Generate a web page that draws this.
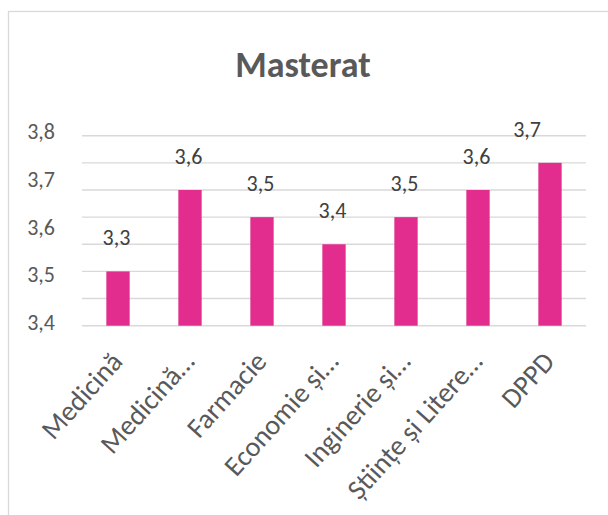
<!DOCTYPE html>
<html>
<head>
<meta charset="utf-8">
<script src="https://cdn.jsdelivr.net/npm/d3@7"></script>
<style>
  html, body { margin: 0; padding: 0; background: #ffffff; }
  svg { display: block; }
</style>
</head>
<body>
<div id="chart"></div>
<script>
// DATA
const categories = [
  "Medicină",
  "Medicină…",
  "Farmacie",
  "Economie și…",
  "Inginerie și…",
  "Științe și Litere…",
  "DPPD"
];
const values = [3.3, 3.6, 3.5, 3.4, 3.5, 3.6, 3.7];
const yTickLabels = ["3,4", "3,5", "3,6", "3,7", "3,8"];
const yDomain = [3.1, 3.8];
const title = "Masterat";

const W = 608;
const H = 515;
const margin = { top: 135.7, right: 22, bottom: 189.3, left: 82 };
const fontFamily = "Calibri, Carlito, 'Open Sans', 'Noto Sans', sans-serif";
const barColor = "#e22d8f";
const gridColor = "#d9d9d9";
const textColor = "#595959";

const svg = d3
  .select("#chart")
  .append("svg")
  .attr("width", W)
  .attr("height", H)
  .attr("xmlns", "http://www.w3.org/2000/svg");

// chart border (only top/left visible in the frame)
svg
  .append("rect")
  .attr("x", 8.5)
  .attr("y", 11.5)
  .attr("width", 700)
  .attr("height", 700)
  .attr("fill", "none")
  .attr("stroke", gridColor)
  .attr("stroke-width", 1.3);

// Title
svg
  .append("text")
  .attr("x", 303)
  .attr("y", 77)
  .attr("text-anchor", "middle")
  .style("font-family", fontFamily)
  .style("font-weight", "bold")
  .style("font-size", "36px")
  .attr("fill", textColor)
  .text(title);

// -----------------------------------------------------------------------------
// AXES & SCALES
// -----------------------------------------------------------------------------
const xScale = d3
  .scaleBand()
  .domain(categories)
  .range([margin.left, W - margin.right])
  .paddingInner(0.676)
  .paddingOuter(0.338);

const yScale = d3
  .scaleLinear()
  .domain(yDomain)
  .range([H - margin.bottom, margin.top]);

// tick labels sit on their own evenly spaced axis
const yLabelScale = d3
  .scalePoint()
  .domain(yTickLabels)
  .range([yScale(yDomain[0]) - 3, yScale(yDomain[1]) - 4]);

// Gridlines
svg
  .append("g")
  .attr("class", "grid")
  .selectAll("line")
  .data(yScale.ticks(7))
  .enter()
  .append("line")
  .attr("x1", xScale.range()[0])
  .attr("x2", xScale.range()[1])
  .attr("y1", d => yScale(d))
  .attr("y2", d => yScale(d))
  .attr("stroke", gridColor)
  .attr("stroke-width", 1.4);

// Y-axis
const yAxis = d3
  .axisLeft(yLabelScale)
  .tickSize(0)
  .tickPadding(0);

svg
  .append("g")
  .attr("class", "myYaxis")
  .attr("transform", "translate(55,0)")
  .call(yAxis)
  .call(g => g.select(".domain").remove())
  .selectAll("text")
  .style("font-family", fontFamily)
  .style("font-size", "22px")
  .attr("fill", textColor);

// -----------------------------------------------------------------------------
// BARS
// -----------------------------------------------------------------------------
svg
  .append("g")
  .attr("class", "bars")
  .selectAll("rect")
  .data(values)
  .enter()
  .append("rect")
  .attr("x", (d, i) => xScale(categories[i]))
  .attr("width", xScale.bandwidth())
  .attr("y", d => yScale(d))
  .attr("height", d => yScale(yDomain[0]) - yScale(d))
  .attr("fill", barColor);

// Data labels
const fmt = d => d3.format(".1f")(d).replace(".", ",");
const labelLimit = xScale.range()[1] - 45;

svg
  .append("g")
  .attr("class", "labels")
  .selectAll("text")
  .data(values)
  .enter()
  .append("text")
  .attr("x", (d, i) => xScale(categories[i]) + xScale.bandwidth() / 2 - 1.5)
  .attr("y", d => yScale(d) - 26)
  .attr("text-anchor", "middle")
  .style("font-family", fontFamily)
  .style("font-size", "22px")
  .attr("fill", "#404040")
  .text(fmt)
  .each(function() {
    // keep labels inside the plot area, like Excel does
    const len = this.getComputedTextLength();
    const cx = +this.getAttribute("x");
    if (cx + len / 2 > labelLimit) this.setAttribute("x", labelLimit - len / 2);
  });

// X-axis category labels
const xBase = yScale(yDomain[0]);
svg
  .append("g")
  .attr("class", "myXaxis")
  .selectAll("text")
  .data(categories)
  .enter()
  .append("text")
  .attr(
    "transform",
    d => `translate(${xScale(d) + xScale.bandwidth() / 2 + 6},${xBase + 37}) rotate(-48)`
  )
  .attr("text-anchor", "end")
  .style("font-family", fontFamily)
  .style("font-size", "28px")
  .attr("fill", textColor)
  .text(d => d);
</script>
</body>
</html>
